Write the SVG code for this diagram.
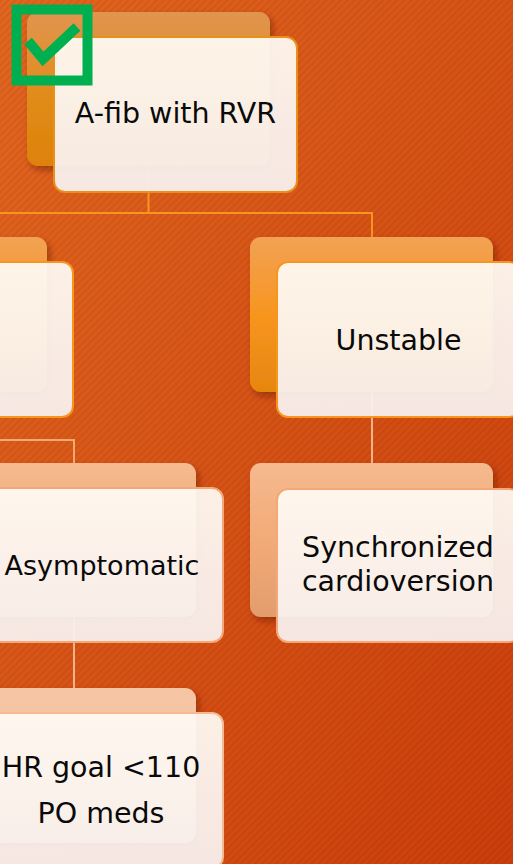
<svg xmlns="http://www.w3.org/2000/svg" width="513" height="864" viewBox="0 0 513 864">
  <defs>
    <linearGradient id="bg" x1="0" y1="0" x2="1" y2="1">
      <stop offset="0" stop-color="#E2661F"/>
      <stop offset="1" stop-color="#CB3E0B"/>
    </linearGradient>
    <pattern id="stripes" width="5" height="5" patternUnits="userSpaceOnUse" patternTransform="rotate(45)">
      <rect x="0" y="0" width="2" height="5" fill="#000" fill-opacity="0.06"/>
    </pattern>
    <linearGradient id="g1" x1="0" y1="0" x2="0" y2="1">
      <stop offset="0" stop-color="#E0954F"/>
      <stop offset="0.55" stop-color="#E08C1A"/>
      <stop offset="1" stop-color="#DE8208"/>
    </linearGradient>
    <linearGradient id="g2" x1="0" y1="0" x2="0" y2="1">
      <stop offset="0" stop-color="#F2A255"/>
      <stop offset="0.5" stop-color="#F7951F"/>
      <stop offset="1" stop-color="#E6870F"/>
    </linearGradient>
    <linearGradient id="g3" x1="0" y1="0" x2="0" y2="1">
      <stop offset="0" stop-color="#F5BA8E"/>
      <stop offset="0.5" stop-color="#F2AA78"/>
      <stop offset="1" stop-color="#E39C6C"/>
    </linearGradient>
    <linearGradient id="g4" x1="0" y1="0" x2="0" y2="1">
      <stop offset="0" stop-color="#F6C6A4"/>
      <stop offset="1" stop-color="#F0B894"/>
    </linearGradient>
    <linearGradient id="front" x1="0" y1="0" x2="0" y2="1">
      <stop offset="0" stop-color="#FFFAF3"/>
      <stop offset="1" stop-color="#F8F0EE"/>
    </linearGradient>
    <filter id="sh" x="-10%" y="-10%" width="125%" height="125%">
      <feDropShadow dx="3" dy="4" stdDeviation="3" flood-color="#5A1800" flood-opacity="0.45"/>
    </filter>
  </defs>
  <style>
    .back { stroke: none; }
    .front { fill: url(#front); fill-opacity: 0.94; stroke-width: 2; }
    .lbl { font-family: "DejaVu Sans", "Liberation Sans", sans-serif; font-size: 28.5px; fill: #0a0a0a; text-anchor: middle; }
    .conn { fill: none; stroke-width: 2; }
  </style>

  <rect x="0" y="0" width="513" height="864" fill="url(#bg)"/>
  <rect x="0" y="0" width="513" height="864" fill="url(#stripes)"/>

  <g id="connectors">
    <path class="conn" stroke="#F7951F" d="M148.5,166 V213 M0,213 H372 V237"/>
    <path class="conn" stroke="#F2B48A" d="M372,392 V463"/>
    <path class="conn" stroke="#F2AA70" d="M0,440 H74 V463"/>
    <path class="conn" stroke="#F2B48A" d="M74,617 V688"/>
  </g>

  <g id="node-afib">
    <rect class="back" x="27" y="12" width="243" height="154" rx="11" fill="url(#g1)" filter="url(#sh)"/>
    <rect class="front" x="54" y="37" width="243" height="155" rx="11" stroke="#E8901C"/>
    <text class="lbl" x="175.5" y="123">A-fib with RVR</text>
  </g>

  <g id="node-stable">
    <rect class="back" x="-196" y="237" width="243" height="155" rx="11" fill="url(#g2)" filter="url(#sh)"/>
    <rect class="front" x="-170" y="262" width="243" height="155" rx="11" stroke="#F7951F"/>
  </g>

  <g id="node-unstable">
    <rect class="back" x="250" y="237" width="243" height="155" rx="11" fill="url(#g2)" filter="url(#sh)"/>
    <rect class="front" x="277" y="262" width="243" height="155" rx="11" stroke="#F7951F"/>
    <text class="lbl" x="398.5" y="350">Unstable</text>
  </g>

  <g id="node-asymptomatic">
    <rect class="back" x="-47" y="463" width="243" height="154" rx="11" fill="url(#g3)" filter="url(#sh)"/>
    <rect class="front" x="-20" y="488" width="243" height="154" rx="11" stroke="#F4A877"/>
    <text class="lbl" x="102" y="575" style="font-size:27px">Asymptomatic</text>
  </g>

  <g id="node-cardioversion">
    <rect class="back" x="250" y="463" width="243" height="154" rx="11" fill="url(#g3)" filter="url(#sh)"/>
    <rect class="front" x="277" y="489" width="243" height="153" rx="11" stroke="#F4A877"/>
    <text class="lbl" x="398" y="557">Synchronized</text>
    <text class="lbl" x="398" y="591">cardioversion</text>
  </g>

  <g id="node-hr">
    <rect class="back" x="-47" y="688" width="243" height="155" rx="11" fill="url(#g4)" filter="url(#sh)"/>
    <rect class="front" x="-20" y="713" width="243" height="155" rx="11" stroke="#F4BA92"/>
    <text class="lbl" x="101" y="777">HR goal &lt;110</text>
    <text class="lbl" x="101" y="823">PO meds</text>
  </g>

  <g id="checkmark">
    <rect x="16.5" y="9.5" width="71" height="71" fill="none" stroke="#00B050" stroke-width="10"/>
    <polyline points="28,41 43,59 77,27" fill="none" stroke="#00B050" stroke-width="10"/>
  </g>
</svg>
